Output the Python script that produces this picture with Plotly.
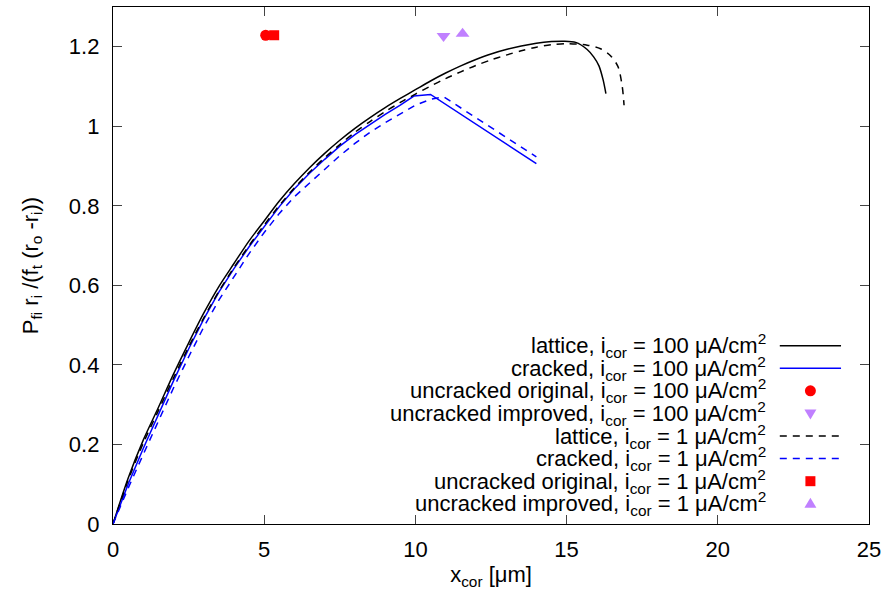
import plotly.graph_objects as go

# Lattice model, i_cor = 100 uA/cm^2
lat100_x = [0, 0.5, 1, 1.5, 2, 2.5, 3, 3.5, 4, 4.5, 5, 5.5, 6, 6.5, 7, 7.5, 8, 8.5,
            9, 9.5, 10, 10.5, 11, 11.5, 12, 12.5, 13, 13.5, 14, 14.5, 14.9, 15.3,
            15.68, 15.9, 16.07, 16.21, 16.30]
lat100_y = [0, 0.115, 0.211, 0.293, 0.377, 0.455, 0.530, 0.597, 0.655, 0.712, 0.762,
            0.812, 0.856, 0.896, 0.932, 0.965, 0.995, 1.022, 1.047, 1.070, 1.092,
            1.114, 1.134, 1.152, 1.168, 1.182, 1.193, 1.202, 1.209, 1.213, 1.214,
            1.211, 1.193, 1.174, 1.152, 1.116, 1.082]

# Cracked model, i_cor = 100 uA/cm^2
crk100_x = [0, 0.5, 1, 1.5, 2, 2.5, 3, 3.5, 4, 4.5, 5, 5.5, 6, 6.5, 7, 7.5, 8, 8.5,
            9, 9.5, 9.95, 10.5, 14.0]
crk100_y = [0, 0.100, 0.190, 0.276, 0.360, 0.440, 0.515, 0.583, 0.642, 0.697, 0.749,
            0.798, 0.843, 0.882, 0.917, 0.950, 0.979, 1.005, 1.030, 1.053, 1.076,
            1.080, 0.906]

# Lattice model, i_cor = 1 uA/cm^2
lat1_x = [0, 0.5, 1, 1.5, 2, 2.5, 3, 3.5, 4, 4.5, 5, 5.5, 6, 6.5, 7, 7.5, 8, 8.5,
          9, 9.5, 10, 10.5, 11, 11.5, 12, 12.5, 13, 13.5, 14, 14.5, 15, 15.68,
          16.12, 16.46, 16.70, 16.84, 16.90]
lat1_y = [0, 0.110, 0.203, 0.285, 0.367, 0.445, 0.518, 0.585, 0.645, 0.700, 0.752,
          0.801, 0.845, 0.885, 0.921, 0.954, 0.985, 1.012, 1.037, 1.060, 1.081,
          1.101, 1.120, 1.137, 1.153, 1.167, 1.179, 1.190, 1.199, 1.205, 1.208,
          1.204, 1.195, 1.177, 1.150, 1.100, 1.053]

# Cracked model, i_cor = 1 uA/cm^2
crk1_x = [0, 0.5, 1, 1.5, 2, 2.5, 3, 3.5, 4, 4.5, 5, 5.5, 6, 6.5, 7, 7.5, 8, 8.5,
          9, 9.5, 10, 10.5, 10.94, 14.0]
crk1_y = [0, 0.090, 0.175, 0.260, 0.342, 0.420, 0.495, 0.563, 0.623, 0.680, 0.733,
          0.781, 0.823, 0.858, 0.892, 0.926, 0.957, 0.985, 1.009, 1.032, 1.053,
          1.068, 1.074, 0.923]

# Uncracked analytical solutions (single points)
unc_orig100 = (5.05, 1.229)
unc_impr100 = (10.93, 1.227)
unc_orig1 = (5.33, 1.229)
unc_impr1 = (11.56, 1.233)

labels = [
    "lattice, i<sub>cor</sub> = 100 μA/cm<sup>2</sup>",
    "cracked, i<sub>cor</sub> = 100 μA/cm<sup>2</sup>",
    "uncracked original, i<sub>cor</sub> = 100 μA/cm<sup>2</sup>",
    "uncracked improved, i<sub>cor</sub> = 100 μA/cm<sup>2</sup>",
    "lattice, i<sub>cor</sub> = 1 μA/cm<sup>2</sup>",
    "cracked, i<sub>cor</sub> = 1 μA/cm<sup>2</sup>",
    "uncracked original, i<sub>cor</sub> = 1 μA/cm<sup>2</sup>",
    "uncracked improved, i<sub>cor</sub> = 1 μA/cm<sup>2</sup>",
]

BLACK = "#000000"
BLUE = "#0000ff"
RED = "#ff0000"
PURPLE = "#c080ff"
DASH = "7px,6px"
FONT = "Liberation Sans, Arial, Helvetica, sans-serif"
FS = 22

fig = go.Figure()


def line(x, y, color, dash, shape="spline"):
    fig.add_trace(go.Scatter(x=x, y=y, mode="lines",
                             line=dict(color=color, width=1.5, dash=dash,
                                       shape=shape, smoothing=0.8),
                             showlegend=False, hoverinfo="skip"))


def point(p, color, symbol, size):
    fig.add_trace(go.Scatter(x=[p[0]], y=[p[1]], mode="markers",
                             marker=dict(color=color, symbol=symbol, size=size,
                                         line=dict(width=0)),
                             showlegend=False, hoverinfo="skip"))


line(lat100_x, lat100_y, BLACK, "solid")
line(crk100_x, crk100_y, BLUE, "solid", "linear")
point(unc_orig100, RED, "circle", 11)
point(unc_impr100, PURPLE, "triangle-down", 12)
line(lat1_x, lat1_y, BLACK, DASH)
line(crk1_x, crk1_y, BLUE, DASH, "linear")
point(unc_orig1, RED, "square", 10)
point(unc_impr1, PURPLE, "triangle-up", 12)

# Key in the lower right corner: right-aligned text with sample to its right
row0 = 0.345
row_step = 0.0437
text_x = 0.866
samp_x0, samp_x1 = 0.882, 0.963
samp_xc = (samp_x0 + samp_x1) / 2
samples = [("line", BLACK, "solid"), ("line", BLUE, "solid"),
           ("circle", RED, None), ("tri-down", PURPLE, None),
           ("line", BLACK, "dash"), ("line", BLUE, "dash"),
           ("square", RED, None), ("tri-up", PURPLE, None)]

shapes = []
annotations = []
for i, (lab, (kind, col, dsh)) in enumerate(zip(labels, samples)):
    yy = row0 - i * row_step
    annotations.append(dict(text=lab, x=text_x, y=yy, xref="paper", yref="paper",
                            xanchor="right", yanchor="middle", showarrow=False,
                            font=dict(family=FONT, size=FS, color="#000000")))
    if kind == "line":
        shapes.append(dict(type="line", xref="paper", yref="paper",
                           x0=samp_x0, x1=samp_x1, y0=yy, y1=yy,
                           line=dict(color=col, width=1.5,
                                     dash="solid" if dsh == "solid" else DASH)))
    elif kind == "circle":
        shapes.append(dict(type="circle", xref="paper", yref="paper",
                           xsizemode="pixel", ysizemode="pixel",
                           xanchor=samp_xc, yanchor=yy,
                           x0=-5.5, x1=5.5, y0=-5.5, y1=5.5,
                           fillcolor=col, line=dict(width=0)))
    elif kind == "square":
        shapes.append(dict(type="rect", xref="paper", yref="paper",
                           xsizemode="pixel", ysizemode="pixel",
                           xanchor=samp_xc, yanchor=yy,
                           x0=-5, x1=5, y0=-5, y1=5,
                           fillcolor=col, line=dict(width=0)))
    else:
        path = ("M-6,4 L6,4 L0,-6 Z" if kind == "tri-down"
                else "M-6,-4 L6,-4 L0,6 Z")
        shapes.append(dict(type="path", xref="paper", yref="paper",
                           xsizemode="pixel", ysizemode="pixel",
                           xanchor=samp_xc, yanchor=yy, path=path,
                           fillcolor=col, line=dict(width=0)))

axis_common = dict(showgrid=False, zeroline=False, showline=True, linecolor="#000000",
                   linewidth=1.3, mirror="allticks", ticks="inside", ticklen=9,
                   tickwidth=1, tickcolor="#444444",
                   tickfont=dict(family=FONT, size=FS, color="#000000"))

fig.update_layout(
    width=889, height=597,
    margin=dict(l=113, r=20, t=7, b=73),
    paper_bgcolor="#ffffff", plot_bgcolor="#ffffff",
    font=dict(family=FONT, size=FS, color="#000000"),
    shapes=shapes, annotations=annotations,
    xaxis=dict(range=[0, 25], tickvals=[0, 5, 10, 15, 20, 25],
               ticklabelstandoff=5,
               title=dict(text="x<sub>cor</sub> [μm]", standoff=6,
                          font=dict(family=FONT, size=FS)),
               **axis_common),
    yaxis=dict(range=[0, 1.3], tickvals=[0, 0.2, 0.4, 0.6, 0.8, 1, 1.2],
               ticktext=["0", "0.2", "0.4", "0.6", "0.8", "1", "1.2"],
               ticklabelstandoff=8,
               title=dict(text="P<sub>fi</sub> r<sub>i</sub> /(f<sub>t</sub> (r<sub>o</sub> -r<sub>i</sub>))",
                          standoff=24, font=dict(family=FONT, size=FS)),
               **axis_common),
)

fig.write_html("out.html")
